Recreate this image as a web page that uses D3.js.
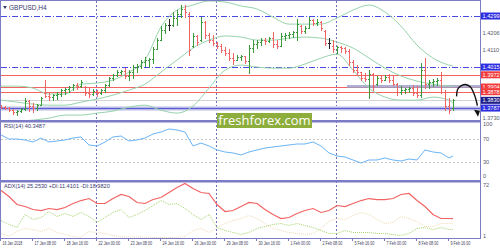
<!DOCTYPE html>
<html>
<head>
<meta charset="utf-8">
<script src="https://cdn.jsdelivr.net/npm/d3@7"></script>
<style>
  body { margin: 0; background: #fff; }
  svg { display: block; font-family: "Liberation Sans", Arial, sans-serif; }
</style>
</head>
<body>
<svg id="chart" width="500" height="250"></svg>
<script>
// GBPUSD H4, 16 Jan 2018 - 9 Feb 2018

// OHLC bars, one per 4 hours
var open = [1.3798,1.3792,1.3787,1.3775,1.3764,1.3770,1.3781,1.3826,1.3798,1.3787,1.3803,1.3870,1.3853,1.3848,1.3859,1.3865,1.3887,1.3892,1.3903,1.3915,
  1.3909,1.3903,1.3870,1.3865,1.3881,1.3870,1.3887,1.3915,1.3954,1.3970,1.3987,1.3993,1.3965,1.3987,1.4015,1.4020,1.4043,1.4054,1.4059,1.4115,
  1.4165,1.4221,1.4249,1.4249,1.4288,1.4310,1.4338,1.4310,1.4132,1.4188,1.4165,1.4266,1.4193,1.4165,1.4149,1.4132,1.4110,1.4093,1.4065,1.4054,
  1.4071,1.4076,1.4048,1.4121,1.4143,1.4154,1.4165,1.4160,1.4176,1.4143,1.4132,1.4188,1.4193,1.4199,1.4210,1.4243,1.4215,1.4232,1.4277,1.4260,
  1.4266,1.4215,1.4149,1.4132,1.4115,1.4126,1.4121,1.4104,1.4043,1.3998,1.3987,1.3954,1.3948,1.3976,1.3920,1.3954,1.3943,1.3959,1.3943,1.3920,
  1.3876,1.3887,1.3892,1.3898,1.3870,1.3859,1.3998,1.3920,1.3931,1.3937,1.3943,1.3876,1.3798,1.3787]
var high = [1.3803,1.3798,1.3792,1.3781,1.3775,1.3787,1.3842,1.3831,1.3814,1.3809,1.3848,1.3943,1.3870,1.3865,1.3876,1.3892,1.3898,1.3909,1.3920,1.3926,
  1.3943,1.3909,1.3898,1.3892,1.3887,1.3892,1.3920,1.3959,1.3976,1.3998,1.3998,1.4009,1.3998,1.4026,1.4032,1.4054,1.4071,1.4065,1.4126,1.4176,
  1.4238,1.4260,1.4277,1.4316,1.4332,1.4355,1.4360,1.4316,1.4204,1.4193,1.4288,1.4266,1.4204,1.4193,1.4154,1.4143,1.4126,1.4110,1.4093,1.4082,
  1.4082,1.4076,1.4137,1.4165,1.4165,1.4176,1.4176,1.4182,1.4210,1.4165,1.4199,1.4204,1.4210,1.4215,1.4277,1.4249,1.4243,1.4288,1.4277,1.4277,
  1.4271,1.4221,1.4176,1.4165,1.4132,1.4132,1.4126,1.4110,1.4054,1.4026,1.3987,1.3982,1.3998,1.3982,1.3965,1.3970,1.3970,1.3976,1.3965,1.3926,
  1.3909,1.3898,1.3903,1.3915,1.3909,1.4037,1.4065,1.3943,1.3948,1.3954,1.3987,1.3887,1.3842,1.3837]
var low = [1.3787,1.3781,1.3770,1.3753,1.3748,1.3764,1.3775,1.3770,1.3764,1.3775,1.3803,1.3848,1.3831,1.3831,1.3837,1.3853,1.3865,1.3876,1.3887,1.3892,
  1.3903,1.3859,1.3848,1.3859,1.3853,1.3865,1.3876,1.3909,1.3943,1.3965,1.3976,1.3954,1.3943,1.3954,1.3987,1.4009,1.4020,1.4015,1.4037,1.4110,
  1.4165,1.4204,1.4221,1.4238,1.4249,1.4288,1.4288,1.4082,1.4126,1.4137,1.4160,1.4176,1.4154,1.4137,1.4121,1.4098,1.4082,1.4054,1.4032,1.4054,
  1.4054,1.4037,1.3982,1.4098,1.4121,1.4137,1.4143,1.4149,1.4126,1.4121,1.4132,1.4165,1.4176,1.4182,1.4165,1.4199,1.4204,1.4232,1.4249,1.4249,
  1.4221,1.4137,1.4121,1.4098,1.4093,1.4098,1.4093,1.4026,1.3987,1.3970,1.3943,1.3937,1.3842,1.3887,1.3915,1.3931,1.3943,1.3931,1.3915,1.3859,
  1.3865,1.3870,1.3876,1.3859,1.3848,1.3848,1.3898,1.3898,1.3909,1.3915,1.3870,1.3775,1.3759,1.3775]
var close = [1.3792,1.3787,1.3775,1.3764,1.3770,1.3781,1.3826,1.3798,1.3787,1.3803,1.3842,1.3853,1.3848,1.3859,1.3865,1.3887,1.3892,1.3903,1.3915,1.3909,
  1.3931,1.3870,1.3865,1.3881,1.3870,1.3887,1.3915,1.3954,1.3970,1.3987,1.3993,1.3965,1.3987,1.4015,1.4020,1.4043,1.4054,1.4059,1.4115,1.4165,
  1.4221,1.4249,1.4249,1.4288,1.4310,1.4338,1.4321,1.4110,1.4188,1.4154,1.4266,1.4193,1.4165,1.4149,1.4132,1.4110,1.4093,1.4065,1.4054,1.4071,
  1.4076,1.4048,1.4121,1.4143,1.4154,1.4165,1.4160,1.4176,1.4143,1.4132,1.4188,1.4193,1.4199,1.4210,1.4254,1.4215,1.4232,1.4277,1.4260,1.4266,
  1.4232,1.4149,1.4149,1.4115,1.4126,1.4121,1.4104,1.4043,1.3998,1.3987,1.3954,1.3948,1.3976,1.3909,1.3954,1.3943,1.3959,1.3943,1.3920,1.3876,
  1.3887,1.3892,1.3898,1.3870,1.3859,1.3998,1.3920,1.3931,1.3937,1.3943,1.3876,1.3798,1.3775,1.3830]

// Bollinger bands, read every 4th bar (last one is bar 113)
var bandUpper = [1.3909,1.3909,1.3898,1.3865,1.3865,1.3920,1.3926,1.3943,1.3987,1.4054,1.4238,1.4332,1.4360,1.4383,1.4377,
  1.4355,1.4338,1.4293,1.4254,1.4254,1.4254,1.4288,1.4332,1.4360,1.4321,1.4243,1.4137,1.4065,1.4026,1.4020]
var bandMid = [1.3831,1.3820,1.3809,1.3803,1.3803,1.3820,1.3837,1.3859,1.3887,1.3920,1.3987,1.4054,1.4121,1.4165,1.4188,
  1.4182,1.4165,1.4165,1.4176,1.4182,1.4176,1.4154,1.4121,1.4065,1.4009,1.3965,1.3937,1.3920,1.3909,1.3909]
var bandLower = [1.3709,1.3714,1.3720,1.3731,1.3748,1.3748,1.3759,1.3770,1.3792,1.3803,1.3775,1.3759,1.3798,1.3898,1.3998,
  1.4026,1.4015,1.4009,1.4009,1.4032,1.4065,1.4087,1.3998,1.3898,1.3848,1.3831,1.3831,1.3848,1.3831,1.3814]

// oscillators, read every 2nd bar (last one is bar 113)
var rsi = [77.0,70.0,70.0,68.3,64.8,71.7,64.8,66.5,68.3,71.7,73.5,59.6,57.8,64.8,73.5,75.2,66.5,68.3,71.7,78.7,
  82.2,87.4,85.7,82.2,57.8,63.0,57.8,50.9,47.4,45.7,42.2,47.4,50.9,54.3,56.1,57.8,59.6,61.3,61.3,64.8,
  57.8,45.7,40.4,38.7,33.5,28.3,33.5,33.5,37.0,33.5,31.7,35.2,33.5,50.9,47.4,45.7,37.0,40.35]
var adx = [61.6,53.9,43.6,41.0,37.1,35.8,38.4,37.1,39.7,44.9,48.7,51.3,44.9,44.9,51.3,56.5,53.9,46.2,44.9,50.0,
  52.6,59.1,65.5,70.7,64.2,59.1,57.8,43.6,34.5,35.8,41.0,46.2,44.9,37.1,30.7,25.5,26.8,32.0,35.8,38.4,
  33.3,35.8,42.3,41.0,44.9,48.7,51.3,50.0,50.0,51.3,56.5,57.8,48.7,41.0,30.7,25.5,25.5,25.25]
var plusDI = [22.9,17.8,13.9,30.7,24.2,26.8,34.5,28.1,32.0,28.1,33.3,28.1,20.4,26.8,33.3,37.1,26.8,30.7,35.8,42.3,
  48.7,43.6,44.9,38.4,30.7,24.2,30.7,13.9,10.0,7.5,4.9,7.5,12.6,15.2,17.8,19.1,16.5,19.1,16.5,13.9,
  10.0,6.2,6.2,10.0,7.5,7.5,7.5,6.2,6.2,4.9,3.6,6.2,12.6,13.9,11.3,13.9,11.3,11.41]
var minusDI = [6.2,2.3,8.7,12.6,11.3,8.7,12.6,7.5,4.9,2.3,1.6,8.7,7.5,6.2,3.6,1.6,1.6,1.6,1.3,1.0,
  1.0,1.0,1.0,2.3,10.0,12.6,7.5,13.9,19.1,22.9,25.5,29.4,25.5,19.1,12.6,10.0,7.5,6.2,4.9,6.2,
  12.6,21.6,25.5,24.2,29.4,33.3,30.7,24.2,19.1,20.4,28.1,25.5,21.6,15.2,15.2,19.1,19.1,18.98]

var dojiBars = [42, 82]
var weekStartBars = [24, 54, 84]
var tickBars = [0,8,16,24,32,40,48,56,64,72,80,88,96,104,112]
var tickLabels = ['16 Jan 2018','17 Jan 08:00','18 Jan 16:00','22 Jan 00:00','23 Jan 08:00','24 Jan 16:00','26 Jan 00:00',
  '29 Jan 08:00','30 Jan 16:00','1 Feb 00:00','2 Feb 08:00','5 Feb 16:00','7 Feb 00:00','8 Feb 08:00','9 Feb 16:00']

// horizontal levels drawn on the price panel
var dashLevels = [1.4299, 1.4015]
var redLevels = [1.3972, 1.3904, 1.3878]
var bidLevel = 1.3830
var supportLevel = 1.3787
var zoneLevel = 1.3904, zoneFromBar = 86.5

var priceLabels = ['1.4299','1.4206','1.4110','1.4015','1.3972','1.3904','1.3878','1.3830','1.3787','1.3730']
var priceLabelKind = ['blue','plain','plain','blue','red','red','red','navy','blue','plain']

// hand drawn forecast arrow, in bar / price units
var arrowBars = [113.9, 114.2, 115.2, 116.1, 117.3, 118.4, 119.1, 119.25]
var arrowPrices = [1.3852, 1.3893, 1.3913, 1.3918, 1.3905, 1.3858, 1.3800, 1.3738]

var colors = {
  frame: '#7c7cc6', sep: '#6f6fc0', up: '#3a9a3a', down: '#f06464', doji: '#222',
  band: '#98d4ac', dash: '#4848e6', red: '#f46262', bid: '#d4d4d4', support: '#5a5ad2',
  rsi: '#6cb4f6', adx: '#f26464', plus: '#a6d46a', minus: '#eedbb4', text: '#3c3c5c'
}
var boxFill = { blue: '#2e2ee0', red: '#f23a3a', navy: '#1e1e86' }

var svg = d3.select('#chart')
var right = 480

var x = d3.scaleLinear().domain([0, 119.75]).range([1, right])
var y = d3.scaleLinear().domain([1.3715, 1.4377]).range([121, 2])
var yRsi = d3.scaleLinear().domain([0, 100]).range([179.25, 121.75])
var yAdx = d3.scaleLinear().domain([1, 72]).range([237.5, 182.5])

var px = i => Math.round(x(i)) + 0.5

svg.append('defs').append('clipPath').attr('id', 'mainClip')
  .append('rect').attr('x', 1).attr('y', 1).attr('width', right - 1).attr('height', 120)
svg.select('defs').append('clipPath').attr('id', 'adxClip')
  .append('rect').attr('x', 1).attr('y', 182).attr('width', right - 1).attr('height', 56)

var bandIdx = d3.range(0, 113, 4).concat([113])
var oscIdx = d3.range(0, 113, 2).concat([113])

// week separators
svg.append('g').selectAll('line').data(weekStartBars).join('line')
  .attr('x1', d => px(d) - 1).attr('x2', d => px(d) - 1)
  .attr('y1', 1).attr('y2', 238)
  .attr('stroke', colors.sep).attr('stroke-width', 1).attr('stroke-dasharray', '2,2')

// RSI 70/30 grid
svg.append('g').selectAll('line').data([70, 30]).join('line')
  .attr('x1', 1).attr('x2', right)
  .attr('y1', d => Math.round(yRsi(d)) + 0.5).attr('y2', d => Math.round(yRsi(d)) + 0.5)
  .attr('stroke', '#c8c8c8').attr('stroke-dasharray', '2,2')

var main = svg.append('g').attr('clip-path', 'url(#mainClip)')

// levels
main.selectAll('line.dash').data(dashLevels).join('line').attr('class', 'dash')
  .attr('x1', 1).attr('x2', right)
  .attr('y1', d => Math.round(y(d)) + 0.5).attr('y2', d => Math.round(y(d)) + 0.5)
  .attr('stroke', colors.dash).attr('stroke-dasharray', '6,2,1,2')
main.selectAll('line.red').data(redLevels).join('line').attr('class', 'red')
  .attr('x1', 1).attr('x2', right)
  .attr('y1', d => Math.round(y(d)) + 0.5).attr('y2', d => Math.round(y(d)) + 0.5)
  .attr('stroke', colors.red)
main.append('line')
  .attr('x1', 1).attr('x2', right)
  .attr('y1', Math.round(y(bidLevel)) + 0.5).attr('y2', Math.round(y(bidLevel)) + 0.5)
  .attr('stroke', colors.bid)
main.append('rect')
  .attr('x', 1).attr('width', right - 1)
  .attr('y', Math.round(y(supportLevel)) - 2).attr('height', 5)
  .attr('fill', '#dcdcf2')
main.append('line')
  .attr('x1', 1).attr('x2', right)
  .attr('y1', Math.round(y(supportLevel)) + 0.5).attr('y2', Math.round(y(supportLevel)) + 0.5)
  .attr('stroke', colors.support).attr('stroke-width', 1.5)
main.append('line')
  .attr('x1', x(zoneFromBar)).attr('x2', right)
  .attr('y1', Math.round(y(zoneLevel)) - 0.5).attr('y2', Math.round(y(zoneLevel)) - 0.5)
  .attr('stroke', '#9c9cc8').attr('stroke-width', 3).attr('stroke-opacity', 0.8)

// bollinger bands
;[bandUpper, bandMid, bandLower].forEach(arr => {
  main.append('path')
    .datum(bandIdx.map((b, k) => [b, arr[k]]))
    .attr('fill', 'none').attr('stroke', colors.band).attr('stroke-width', 1)
    .attr('d', d3.line().x(d => x(d[0])).y(d => y(d[1])).curve(d3.curveMonotoneX))
})

// OHLC bars
var bars = main.append('g')
open.forEach((o, i) => {
  var c = close[i]
  var col = dojiBars.includes(i) ? colors.doji : (c >= o ? colors.up : colors.down)
  var g = bars.append('g').attr('stroke', col).attr('stroke-width', 1).attr('shape-rendering', 'crispEdges')
  var xi = px(i)
  g.append('line').attr('x1', xi).attr('x2', xi).attr('y1', y(high[i]) - 0.5).attr('y2', y(low[i]) + 0.5)
  g.append('line').attr('x1', xi - 1.5).attr('x2', xi).attr('y1', Math.round(y(o)) + 0.5).attr('y2', Math.round(y(o)) + 0.5)
  g.append('line').attr('x1', xi).attr('x2', xi + 1.5).attr('y1', Math.round(y(c)) + 0.5).attr('y2', Math.round(y(c)) + 0.5)
})

// forecast arrow
var arrowPts = arrowBars.map((b, k) => [x(b), y(arrowPrices[k])])
svg.append('path').datum(arrowPts.slice(0, -1))
  .attr('fill', 'none').attr('stroke', '#111').attr('stroke-width', 1.4)
  .attr('d', d3.line().curve(d3.curveCatmullRom))
var tip = arrowPts[arrowPts.length - 1]
svg.append('path')
  .attr('d', `M${tip[0]},${tip[1]} L${tip[0] - 4},${tip[1] - 7} L${tip[0] + 2},${tip[1] - 6} Z`)
  .attr('fill', '#111')

// RSI
svg.append('path').datum(oscIdx.map((b, k) => [b, rsi[k]]))
  .attr('fill', 'none').attr('stroke', colors.rsi).attr('stroke-width', 1)
  .attr('d', d3.line().x(d => x(d[0])).y(d => yRsi(d[1])))

// ADX
var adxG = svg.append('g').attr('clip-path', 'url(#adxClip)')
adxG.append('path').datum(oscIdx.map((b, k) => [b, minusDI[k]]))
  .attr('fill', 'none').attr('stroke', colors.minus).attr('stroke-width', 1).attr('stroke-dasharray', '1,1')
  .attr('d', d3.line().x(d => x(d[0])).y(d => yAdx(d[1])))
adxG.append('path').datum(oscIdx.map((b, k) => [b, plusDI[k]]))
  .attr('fill', 'none').attr('stroke', colors.plus).attr('stroke-width', 1).attr('stroke-dasharray', '1,1')
  .attr('d', d3.line().x(d => x(d[0])).y(d => yAdx(d[1])))
adxG.append('path').datum(oscIdx.map((b, k) => [b, adx[k]]))
  .attr('fill', 'none').attr('stroke', colors.adx).attr('stroke-width', 1.2)
  .attr('d', d3.line().x(d => x(d[0])).y(d => yAdx(d[1])))

// frame and panel separators
svg.append('rect').attr('x', 0.5).attr('y', 0.5).attr('width', right).attr('height', 238)
  .attr('fill', 'none').attr('stroke', colors.frame)
svg.selectAll('rect.sep').data([120, 180]).join('rect').attr('class', 'sep')
  .attr('x', 0).attr('width', right + 1).attr('y', d => d).attr('height', 2.5)
  .attr('fill', colors.frame)

// freshforex badge
svg.append('rect').attr('x', 217).attr('y', 113).attr('width', 95).attr('height', 15).attr('fill', '#8dae3c')
svg.append('text').attr('x', 264.5).attr('y', 124.5).attr('text-anchor', 'middle')
  .attr('fill', '#fff').attr('font-size', 13).attr('font-family', 'Open Sans, Liberation Sans, sans-serif')
  .text('freshforex.com')

// titles
svg.append('path').attr('d', 'M3,6 L7,6 L5,9 Z').attr('fill', '#3a3a70')
svg.append('text').attr('x', 9).attr('y', 10).attr('font-size', 6.5).attr('fill', '#3a3a70').text('GBPUSD,H4')
svg.append('text').attr('x', 4).attr('y', 128).attr('font-size', 5.6).attr('fill', '#3a3a70').text('RSI(14) 40.3487')
svg.append('text').attr('x', 4).attr('y', 188).attr('font-size', 5.6).attr('fill', '#3a3a70')
  .text('ADX(14) 25.2530 +DI:11.4101 -DI:18.9820')

// right price labels
var pl = svg.append('g').attr('font-size', 5.6)
priceLabels.forEach((t, k) => {
  var yy = y(+t)
  var kind = priceLabelKind[k]
  if (kind !== 'plain') {
    pl.append('rect').attr('x', 481).attr('y', yy - 3.5).attr('width', 19).attr('height', 7).attr('fill', boxFill[kind])
  }
  pl.append('text').attr('x', 482.5).attr('y', yy + 2)
    .attr('fill', kind === 'plain' ? '#5a5a6a' : '#fff').text(t)
})

// oscillator scale labels
var oscLabels = [[yRsi(100) + 2.5, '100'], [yRsi(70), '70'], [yRsi(30), '30'], [yRsi(0) - 3, '0'], [yAdx(72) + 2.5, '72'], [yAdx(1) - 1.5, '1']]
svg.append('g').selectAll('text').data(oscLabels).join('text')
  .attr('x', 483).attr('y', d => d[0] + 2).attr('font-size', 5.6).attr('fill', '#5a5a6a').text(d => d[1])

// time axis
var ax = svg.append('g')
tickBars.forEach((b, k) => {
  ax.append('line').attr('x1', px(b) - 1).attr('x2', px(b) - 1).attr('y1', 238).attr('y2', 241).attr('stroke', colors.frame)
  ax.append('text').attr('x', px(b) + 1).attr('y', 245).attr('font-size', 5.4).attr('fill', colors.text)
    .attr('textLength', tickLabels[k].length * 1.8).attr('lengthAdjust', 'spacingAndGlyphs')
    .text(tickLabels[k])
})
</script>
</body>
</html>
